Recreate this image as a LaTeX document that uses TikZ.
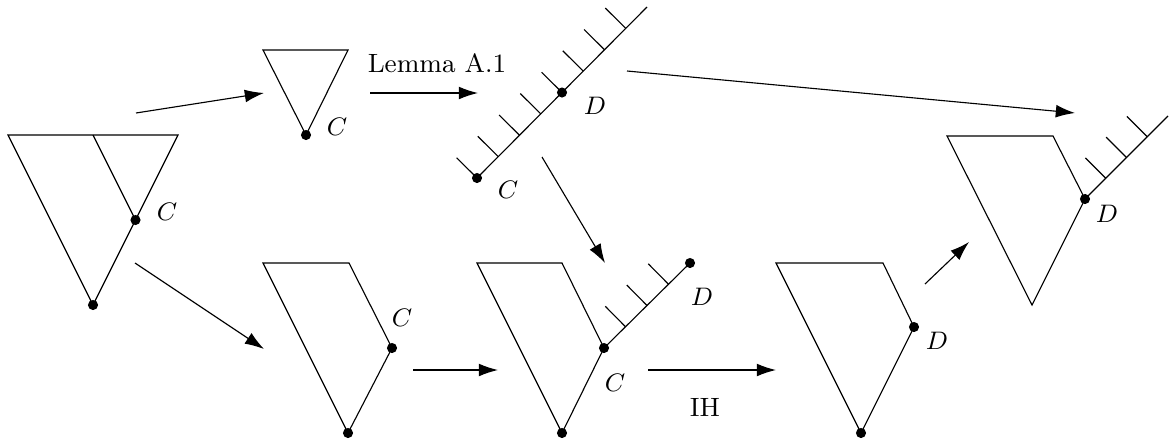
\documentclass[tikz,border=0pt]{standalone}
\usepackage{amsmath,amssymb}
\usepackage{tikz}
\usetikzlibrary{arrows.meta}
\usetikzlibrary{calc}

\begin{document}
\begin{tikzpicture}[x=0.0125cm,y=-0.0125cm,
    every node/.style={font=\fontsize{9.4}{11}\selectfont},
    arr/.style={-{Latex[length=2.4mm,width=1.6mm]}},
    dot/.style={circle,fill,inner sep=0pt,minimum size=3.6pt}]
    \useasboundingbox (0,0) rectangle (1169,444);
    % big tree on the left
    \coordinate (A1) at (8,135);
    \coordinate (B1) at (178,135);
    \coordinate (M1) at (93,135);
    \coordinate (R1) at (93,305);
    \coordinate (C1) at ($(B1)!0.5!(R1)$);
    \draw (A1) -- (B1) -- (R1) -- cycle;
    \draw (M1) -- (C1);
    \node[dot] (c1) at (C1) {};
    \node[dot] (r1) at (R1) {};
    \node (lc1) at (167,212) {$C$};
    % small triangle
    \coordinate (A2) at (263,50);
    \coordinate (B2) at (348,50);
    \coordinate (C2) at (306,135);
    \draw (A2) -- (B2) -- (C2) -- cycle;
    \node[dot] (c2) at (C2) {};
    \node (lc2) at (337,127) {$C$};
    % hatched line
    \coordinate (C3) at (477,178);
    \coordinate (E3) at (647,7);
    \coordinate (D3) at ($(C3)!0.5!(E3)$);
    \draw (C3) -- (E3);
    \foreach \t in {0,0.125,...,0.875} {
      \coordinate (h) at ($(C3)!\t!(E3)$);
      \draw (h) -- ($(h)!0.36cm!90:(E3)$);
    }
    \node[dot] (c3) at (C3) {};
    \node[dot] (d3) at (D3) {};
    \node (lc3) at (508,190) {$C$};
    \node (ld3) at (595,106) {$D$};
    % bottom row, first
    \coordinate (A4) at (263,263);
    \coordinate (B4) at (349,263);
    \coordinate (C4) at (392,348);
    \coordinate (R4) at (348,433);
    \draw (A4) -- (B4) -- (C4) -- (R4) -- cycle;
    \node[dot] (c4) at (C4) {};
    \node[dot] (r4) at (R4) {};
    \node (lc4) at (402,318) {$C$};
    % bottom row, second
    \coordinate (A5) at (477,263);
    \coordinate (B5) at (562,263);
    \coordinate (C5) at (604,348);
    \coordinate (R5) at (562,433);
    \coordinate (D5) at (690,263);
    \draw (A5) -- (B5) -- (C5) -- (R5) -- cycle;
    \draw (C5) -- (D5);
    \foreach \t in {0.25,0.5,0.75} {
      \coordinate (h) at ($(C5)!\t!(D5)$);
      \draw (h) -- ($(h)!0.36cm!90:(D5)$);
    }
    \node[dot] (c5) at (C5) {};
    \node[dot] (r5) at (R5) {};
    \node[dot] (d5) at (D5) {};
    \node (lc5) at (615,383) {$C$};
    \node (ld5) at (702,297) {$D$};
    % bottom row, third
    \coordinate (A6) at (776,263);
    \coordinate (B6) at (883,263);
    \coordinate (D6) at (914,327);
    \coordinate (R6) at (861,433);
    \draw (A6) -- (B6) -- (D6) -- (R6) -- cycle;
    \node[dot] (d6) at (D6) {};
    \node[dot] (r6) at (R6) {};
    \node (ld6) at (937,341) {$D$};
    % result on the right
    \coordinate (A7) at (947,136);
    \coordinate (B7) at (1053,136);
    \coordinate (D7) at (1085,199);
    \coordinate (R7) at (1032,305);
    \coordinate (E7) at (1168,116);
    \draw (A7) -- (B7) -- (D7) -- (R7) -- cycle;
    \draw (D7) -- (E7);
    \foreach \t in {0.25,0.5,0.75} {
      \coordinate (h) at ($(D7)!\t!(E7)$);
      \draw (h) -- ($(h)!0.36cm!90:(E7)$);
    }
    \node[dot] (d7) at (D7) {};
    \node (ld7) at (1107,214) {$D$};
    % arrows
    \coordinate (s1) at (136,113);   \coordinate (t1) at (264,93);
    \coordinate (s2) at (370,93);    \coordinate (t2) at (478,93);
    \coordinate (s3) at (627,71);    \coordinate (t3) at (1075,113);
    \coordinate (s4) at (542,157);   \coordinate (t4) at (605,263);
    \coordinate (s5) at (135,263);   \coordinate (t5) at (264,349);
    \coordinate (s6) at (413,370);   \coordinate (t6) at (498,370);
    \coordinate (s7) at (648,370);   \coordinate (t7) at (776,370);
    \coordinate (s8) at (925,284);   \coordinate (t8) at (969,242);
    \foreach \i in {1,...,8}
      \draw[arr] (s\i) -- (t\i);
    \node (lemma) at (437,63) {Lemma A.1};
    \node (ih) at (705,407) {IH};
  \end{tikzpicture}
\end{document}
